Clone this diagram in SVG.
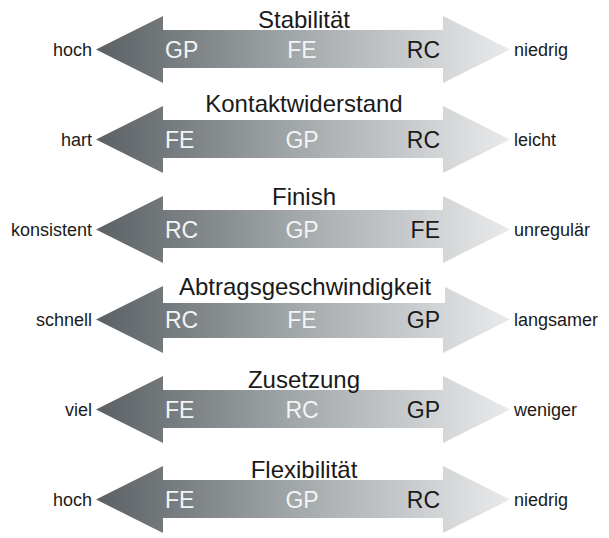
<svg xmlns="http://www.w3.org/2000/svg" width="609" height="538" viewBox="0 0 609 538">
<defs>
<linearGradient id="g" gradientUnits="userSpaceOnUse" x1="96" y1="0" x2="510" y2="0">
<stop offset="0" stop-color="#5b6064"/>
<stop offset="0.5" stop-color="#a5aaad"/>
<stop offset="1" stop-color="#e9eaeb"/>
</linearGradient>
<path id="arr" d="M96,0 L163,-33.5 L163,-19.5 L443,-19.5 L443,-33.5 L510,0 L443,33.5 L443,18.5 L163,18.5 L163,33.5 Z"/>
</defs>
<style>
text{font-family:"Liberation Sans",Arial,sans-serif}
.t{font-size:24px;fill:#1a1a1a;text-anchor:middle}
.s{font-size:18px;fill:#1a1a1a}
.l{text-anchor:end}
.i{font-size:23px}
.w{fill:#f4f4f4}
.d{fill:#1a1a1a}
.m{text-anchor:middle}
.e{text-anchor:end}
</style>
<rect width="609" height="538" fill="#ffffff"/>
<g id="connectors">
<use href="#arr" y="49.5" fill="url(#g)"/>
<use href="#arr" y="139.5" fill="url(#g)"/>
<use href="#arr" y="229.5" fill="url(#g)"/>
<use href="#arr" y="319.5" fill="url(#g)"/>
<use href="#arr" y="409.5" fill="url(#g)"/>
<use href="#arr" y="499.5" fill="url(#g)"/>
<rect x="163" y="280" width="282" height="23" fill="#ffffff"/>
</g>
<g id="stabilitaet">
<text class="t" x="304" y="28">Stabilität</text>
<text class="s l" x="92" y="56">hoch</text>
<text class="s" x="514" y="56">niedrig</text>
<text class="i w" x="165" y="58">GP</text>
<text class="i w m" x="302" y="58">FE</text>
<text class="i d e" x="440" y="58">RC</text>
</g>
<g id="kontaktwiderstand">
<text class="t" x="304" y="112">Kontaktwiderstand</text>
<text class="s l" x="92" y="146">hart</text>
<text class="s" x="514" y="146">leicht</text>
<text class="i w" x="165" y="148">FE</text>
<text class="i w m" x="302" y="148">GP</text>
<text class="i d e" x="440" y="148">RC</text>
</g>
<g id="finish">
<text class="t" x="304" y="205">Finish</text>
<text class="s l" x="92" y="236">konsistent</text>
<text class="s" x="514" y="236">unregulär</text>
<text class="i w" x="165" y="238">RC</text>
<text class="i w m" x="302" y="238">GP</text>
<text class="i d e" x="440" y="238">FE</text>
</g>
<g id="abtragsgeschwindigkeit">
<text class="t" x="305" y="295">Abtragsgeschwindigkeit</text>
<text class="s l" x="92" y="326">schnell</text>
<text class="s" x="514" y="326">langsamer</text>
<text class="i w" x="165" y="328">RC</text>
<text class="i w m" x="302" y="328">FE</text>
<text class="i d e" x="440" y="328">GP</text>
</g>
<g id="zusetzung">
<text class="t" x="304" y="388">Zusetzung</text>
<text class="s l" x="92" y="416">viel</text>
<text class="s" x="514" y="416">weniger</text>
<text class="i w" x="165" y="418">FE</text>
<text class="i w m" x="302" y="418">RC</text>
<text class="i d e" x="440" y="418">GP</text>
</g>
<g id="flexibilitaet">
<text class="t" x="304" y="478">Flexibilität</text>
<text class="s l" x="92" y="506">hoch</text>
<text class="s" x="514" y="506">niedrig</text>
<text class="i w" x="165" y="508">FE</text>
<text class="i w m" x="302" y="508">GP</text>
<text class="i d e" x="440" y="508">RC</text>
</g>
</svg>
